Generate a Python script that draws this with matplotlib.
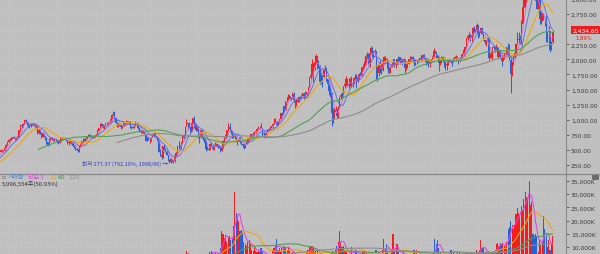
import numpy as np
import pandas as pd
import matplotlib
matplotlib.use('Agg')
import matplotlib.pyplot as plt
from matplotlib.lines import Line2D
from matplotlib.patches import Rectangle

# Monthly KOSPI data, starting 1985/03 (one row per year)
close = [
 134,136,140,142,140,140,145,146,150,163,
 160,170,190,205,215,230,250,255,265,250,250,272,
 290,320,380,390,360,380,450,470,490,500,480,525,
 580,630,660,680,690,710,700,680,700,720,820,907,
 900,930,990,980,950,900,890,930,920,920,900,909,
 780,830,780,720,770,720,700,620,580,680,680,696,
 650,680,660,640,620,650,700,690,700,690,650,610,
 630,650,620,570,540,520,500,480,560,600,640,678,
 650,690,720,750,730,730,710,720,740,760,820,866,
 930,920,870,900,940,940,950,960,1010,1080,1130,1027,
 950,900,930,900,880,890,960,920,980,960,970,882,
 880,870,900,950,940,860,820,800,810,790,760,651,
 690,680,690,710,750,760,730,700,650,470,410,376,
 560,520,480,420,320,297,350,310,310,400,450,562,
 570,520,620,750,700,880,930,940,880,800,950,1028,
 940,830,860,730,720,820,700,690,610,510,520,504,
 600,560,520,560,590,590,540,545,480,540,650,693,
 750,820,880,850,800,740,720,720,650,650,700,627,
 590,575,535,600,630,670,710,760,700,780,790,810,
 850,880,880,860,780,770,735,800,835,850,880,895,
 930,1010,965,910,970,1010,1110,1080,1220,1160,1300,1379,
 1400,1350,1360,1420,1320,1295,1300,1350,1370,1360,1400,1434,
 1360,1420,1450,1540,1700,1740,1930,1870,1950,2060,1900,1897,
 1620,1710,1700,1830,1850,1670,1590,1470,1450,1110,1080,1124,
 1160,1060,1210,1370,1400,1390,1560,1590,1670,1580,1560,1682,
 1600,1590,1690,1740,1640,1700,1760,1740,1870,1880,1900,2051,
 2070,1940,2100,2190,2140,2100,2130,1880,1770,1910,1850,1826,
 1950,2030,2010,1980,1840,1850,1880,1900,2000,1910,1930,1997,
 1960,2030,2000,1960,2000,1860,1920,1930,2000,2030,2045,2011,
 1940,1980,1985,1960,2015,2000,2075,2070,2020,1960,1980,1916,
 1950,1990,2040,2130,2115,2075,2030,1940,1960,2030,1990,1961,
 1910,1915,1995,1995,1980,1970,2015,2035,2040,2010,1980,2026,
 2070,2090,2160,2205,2350,2390,2400,2360,2395,2520,2475,2467,
 2565,2430,2445,2515,2425,2325,2295,2320,2345,2030,2095,2041,
 2205,2195,2140,2205,2040,2130,2025,1970,2065,2085,2090,2198,
 2120,1990,1755,1950,2030,2110,2250,2330,2330,2270,2590,2873,
 2976,3013,3061,3148,3204,3297,3202,3199,3069,2971,2839,2977,
 2663,2699,2757,2695,2685,2332,2452,2472,2155,2293,2434.65,
]
high = [
 140,139,142,145,144,143,147,149,152,165,
 168,172,193,210,220,235,255,262,270,268,256,275,
 295,325,390,405,395,385,455,480,500,515,505,530,
 590,640,670,700,710,720,725,710,710,735,825,910,
 920,940,1000,1007,985,955,910,945,945,935,925,920,
 915,850,840,785,790,775,730,705,625,700,705,715,
 700,690,690,670,650,660,710,705,715,715,695,655,
 640,675,660,625,580,555,530,510,570,620,650,690,
 685,700,730,770,760,745,735,730,750,770,830,870,
 940,945,925,910,950,955,960,970,1020,1090,1138,1130,
 1030,955,940,935,905,905,975,965,990,985,985,975,
 895,890,910,986,965,945,865,825,830,830,795,760,
 705,710,690,715,760,792,770,730,705,660,510,490,
 570,580,530,500,420,350,380,350,335,410,465,570,
 640,580,625,760,770,885,1005,945,960,895,960,1030,
 1066,950,900,860,780,830,830,770,700,640,570,550,
 620,620,580,570,630,620,590,580,545,550,660,710,
 760,830,940,945,850,810,770,760,720,670,710,720,
 640,610,590,610,640,690,720,760,770,790,800,820,
 860,900,890,940,860,790,780,805,840,870,890,900,
 950,1020,1020,970,980,1015,1110,1120,1230,1230,1300,1380,
 1420,1400,1375,1465,1460,1330,1340,1360,1390,1380,1410,1440,
 1440,1470,1460,1545,1710,1800,2000,1940,1960,2085,2060,1990,
 1900,1770,1740,1840,1900,1850,1680,1600,1560,1460,1190,1200,
 1230,1200,1230,1380,1440,1460,1560,1630,1720,1680,1630,1690,
 1720,1640,1700,1760,1750,1750,1780,1790,1880,1920,1980,2060,
 2120,2100,2110,2230,2200,2140,2180,2130,1900,1950,1990,1930,
 1960,2050,2060,2020,1990,1880,1890,1960,2010,2000,1950,2000,
 2050,2030,2030,1990,2020,2010,1930,1950,2010,2060,2060,2050,
 2020,1990,1990,2010,2020,2020,2080,2090,2090,2030,1990,2000,
 1960,2000,2050,2190,2150,2100,2080,2040,1990,2060,2060,2000,
 1960,1940,2010,2020,1990,2010,2025,2060,2070,2060,2010,2040,
 2090,2100,2170,2210,2360,2400,2450,2420,2420,2530,2560,2500,
 2607,2560,2470,2520,2530,2450,2330,2320,2340,2340,2100,2130,
 2210,2235,2230,2250,2200,2140,2140,2020,2070,2110,2140,2200,
 2280,2250,2060,1960,2060,2230,2260,2460,2460,2410,2650,2880,
 3270,3140,3090,3250,3250,3316,3300,3290,3210,3090,3050,3040,
 3000,2780,2780,2760,2690,2740,2460,2550,2470,2300,2480,
]
low = [
 131,132,135,138,137,137,139,142,144,149,
 155,158,168,188,203,212,228,245,252,245,240,248,
 268,285,318,360,350,355,378,440,460,470,460,475,
 520,575,620,650,670,680,690,660,670,690,715,815,
 870,880,925,950,920,880,860,880,905,900,880,850,
 760,760,770,700,710,705,670,600,566,575,650,665,
 640,640,655,620,600,610,640,675,675,675,640,600,
 585,620,605,565,535,505,490,459,470,555,595,630,
 640,645,680,715,720,705,700,700,715,735,755,810,
 860,900,860,850,890,920,925,940,955,1000,1070,1010,
 940,880,880,890,850,860,890,910,920,945,935,860,
 840,855,860,895,920,850,790,780,785,785,740,640,
 640,660,620,650,705,740,720,690,640,470,390,350,
 370,505,460,410,320,277,290,300,285,300,390,430,
 520,500,510,610,680,700,890,850,860,800,810,940,
 860,820,810,700,620,690,700,660,590,480,490,500,
 500,560,490,490,560,570,530,530,460,480,530,620,
 690,720,810,830,760,700,690,680,640,585,640,620,
 580,570,515,540,590,610,660,700,690,700,745,770,
 790,840,840,860,720,750,700,720,790,810,840,860,
 870,930,960,890,910,960,1000,1060,1080,1120,1160,1300,
 1330,1320,1330,1360,1300,1200,1230,1290,1300,1320,1350,1370,
 1350,1390,1370,1450,1540,1680,1730,1620,1830,1920,1840,1850,
 1590,1600,1550,1700,1800,1650,1500,1410,1370,892,950,1030,
 1080,1020,1020,1200,1340,1340,1380,1520,1560,1560,1520,1560,
 1550,1550,1590,1680,1530,1620,1680,1720,1720,1840,1860,1900,
 2020,1930,1880,2100,2040,2020,2080,1680,1640,1720,1780,1760,
 1810,1930,1980,1940,1780,1770,1770,1870,1900,1880,1850,1920,
 1930,1930,1950,1910,1950,1770,1820,1850,1920,1990,2000,1960,
 1890,1910,1920,1950,1950,1970,1970,2030,2010,1900,1920,1880,
 1870,1940,1970,2030,2100,2020,2010,1800,1910,1940,1950,1880,
 1830,1830,1910,1950,1940,1890,1960,2000,1980,2000,1930,1960,
 2020,2050,2080,2120,2200,2330,2360,2310,2310,2390,2460,2430,
 2440,2360,2380,2420,2420,2320,2250,2220,2300,1990,2030,2030,
 1990,2170,2120,2140,2010,2060,2020,1890,1970,2000,2080,2070,
 2080,1990,1439,1720,1900,2030,2110,2250,2270,2260,2260,2590,
 2870,2860,2930,3060,3100,3200,3160,3060,3040,2900,2840,2840,
 2590,2590,2640,2650,2550,2290,2290,2420,2130,2150,2270,
]
# monthly volume, millions of shares (axis unit "K")
volume = [
 200,220,230,210,220,230,250,260,280,320,
 350,400,550,600,580,620,700,650,600,550,520,600,
 700,800,1000,900,800,750,900,850,800,850,700,800,
 900,1000,950,900,850,800,750,700,700,750,900,1100,
 1100,1000,1200,1100,900,800,750,800,700,650,600,700,
 900,700,600,500,700,500,450,400,500,700,600,550,
 500,550,500,450,450,500,600,550,550,500,450,450,
 550,600,500,450,400,450,400,450,700,800,900,900,
 800,1000,1100,1300,1200,1100,1000,1000,1100,1200,1500,1600,
 1800,1500,1300,1400,1500,1400,1300,1300,1500,1700,1700,1300,
 1200,1000,1000,900,800,800,1100,1000,900,900,900,800,
 900,700,900,1100,1000,900,800,700,700,800,800,900,
 1000,1000,1100,1200,1400,1300,1200,1100,1200,1400,1600,2200,
 3000,2500,2200,2000,2100,2300,3500,2800,2500,3500,5000,6000,
 6500,4500,5500,7000,7000,7500,8500,7800,6000,5500,7000,7500,
 6500,5500,6000,5500,6000,7500,6500,6500,6500,7000,7500,7000,
 8000,8500,8000,7500,8000,7500,7000,7500,9500,16000,15000,13500,
 14700,12000,13500,14000,12500,13000,18000,31000,23000,21000,20000,16000,
 16500,15500,12000,11000,10500,12000,12700,11000,9000,8500,10300,8500,
 8000,8500,8000,9500,8500,7000,6500,6500,7000,6500,7000,7500,
 9000,9500,10300,13000,9000,9500,8500,9500,10500,10000,10000,9000,
 10000,9000,7000,8000,7500,6500,6000,6000,5500,6000,6500,6000,
 7000,7500,8000,9000,10000,10000,10500,9500,8000,9000,8500,7500,
 7000,6500,6500,7000,7000,6000,6500,6000,6500,8000,8500,8000,
 9000,10500,12000,16000,12000,10000,10500,9000,8000,7500,7500,7000,
 10000,7500,7000,9000,8500,7000,7000,6500,7000,8000,8500,7500,
 8000,7000,7500,7500,7000,6500,7000,9000,7500,8000,7000,6500,
 9000,13000,9500,11000,8000,7000,7500,8500,15000,9000,7500,11000,
 8000,7000,7000,7500,8500,7000,6500,6000,6000,6500,7000,6500,
 9000,8500,9000,7500,6500,6000,6500,7000,6500,6000,6000,5500,
 6000,6500,7000,8000,13000,11000,12700,9500,8000,7500,7000,6500,
 7000,7000,7500,8000,9000,9000,8500,7000,6500,6500,6000,8000,
 6500,6000,6500,7000,8000,7500,7000,6500,6000,6500,7000,6500,
 9000,8000,9000,12500,9500,10000,8000,7500,7000,8500,7500,7000,
 8000,8500,9000,11000,11500,10500,11500,11000,11500,10500,10000,12000,
 17000,17500,20000,18500,17000,18500,22500,24700,23000,22000,25500,24000,
 28000,30800,29000,28500,35000,26000,27000,15000,14000,15000,14000,8000,
 13000,11000,12000,21700,17000,14000,10000,12500,9000,11000,14000,
]
price_ma = [5, 10, 20, 60, 120]
volume_ma = [5, 20, 60, 120]
price_ticks = [250, 500, 750, 1000, 1250, 1500, 1750, 2000, 2250, 2750, 3000]
volume_ticks = [10000, 15000, 20000, 25000, 30000, 35000]
low_month = '1998-06'
low_label = "최저 277.37 (792.10%, 1998/06)"
last_label = "2,434.65"
last_pct = "1.89%"
vol_note = "5,996,554주(50.93%)"

months = pd.period_range('1985-03', periods=len(close), freq='M')
c = np.array(close, float); h = np.array(high, float); l = np.array(low, float)
o = np.concatenate([[c[0]], c[:-1]])
v = np.array(volume, float)
x = np.arange(len(c))

BG = '#c0c0c0'
RED = '#f41c1c'
BLUE = '#2262dc'
MA_COL = {5: '#d36ad8', 10: '#5a68dc', 20: '#f2a60c', 60: '#4fa252', 120: '#8c8c8c'}

W, H = 600, 255
fig = plt.figure(figsize=(6.0, 2.55), dpi=100, facecolor=BG)
plt.rcParams['font.family'] = ['DejaVu Sans']
KR = ['Noto Sans CJK KR', 'DejaVu Sans']

axw = 566 / W
ax1 = fig.add_axes([0, 1 - 174 / H, axw, 174 / H], facecolor=BG)
ax2 = fig.add_axes([0, 0, axw, 80 / H], facecolor=BG)

x0 = 29.5
x1 = x0 + 566 / 1.308
up = c >= o
col = np.where(up, RED, BLUE)

for ax in (ax1, ax2):
    ax.set_xlim(x0, x1)
    for s in ('left', 'top', 'bottom'):
        ax.spines[s].set_visible(False)
    ax.spines['right'].set_color('#8a8a8a')
    ax.spines['right'].set_linewidth(0.8)
    ax.yaxis.tick_right()
    ax.tick_params(axis='y', labelsize=4.3, colors='#3a3a3a', length=2.5, width=0.5, pad=1)
    ax.tick_params(axis='x', bottom=False, labelbottom=False)
    for xv in range(36, 460, 36):
        ax.axvline(xv, color='#d6d6d6', lw=0.6, ls=(0, (1, 5)), zorder=0)

# price panel
ax1.set_ylim(116, 3002)
ax1.set_yticks(price_ticks)
ax1.set_yticklabels([f'{t:,.2f}' for t in price_ticks])
for t in price_ticks + [2500]:
    ax1.axhline(t, color='#d6d6d6', lw=0.6, ls=(0, (1, 5)), zorder=0)
ax1.vlines(x, l, h, colors=col, lw=0.7, zorder=2)
ax1.bar(x, np.abs(c - o) + 2, bottom=np.minimum(o, c), width=0.8, color=col, lw=0, zorder=3)
cs = pd.Series(c)
for n in price_ma:
    ax1.plot(x, cs.rolling(n).mean(), color=MA_COL[n], lw=0.8 if n >= 20 else 0.6, zorder=4)

ilow = int(np.where(months == pd.Period(low_month, 'M'))[0][0])
ax1.annotate(low_label + ' →', xy=(x[ilow], l[ilow]), xytext=(x[ilow] - 1.2, l[ilow]),
             ha='right', va='center', fontsize=4.0, color='#2a3cc8', family=KR, zorder=6)

ax1.annotate(last_label, xy=(1.0, c[-1]), xycoords=('axes fraction', 'data'),
             xytext=(4.5, 2), textcoords='offset points', ha='left', va='center',
             fontsize=4.3, color='white', zorder=10, annotation_clip=False,
             bbox=dict(boxstyle='square,pad=0.25', fc='#ee1c1c', ec='none'))
ax1.annotate(last_pct, xy=(1.0, c[-1]), xycoords=('axes fraction', 'data'),
             xytext=(7, -3.2), textcoords='offset points', ha='left', va='center',
             fontsize=3.8, color='#ee1c1c', zorder=10, annotation_clip=False)

# volume panel
ax2.set_ylim(7350, 37650)
ax2.set_yticks(volume_ticks)
ax2.set_yticklabels([f'{t:,}K' for t in volume_ticks])
for t in volume_ticks:
    ax2.axhline(t, color='#d6d6d6', lw=0.6, ls=(0, (1, 5)), zorder=0)
ax2.bar(x, v, width=0.85, color=col, lw=0, zorder=2)
vs = pd.Series(v)
vcol = {5: '#e048e0', 20: '#f2a60c', 60: '#4fa252', 120: '#8c8c8c'}
for n in volume_ma:
    ax2.plot(x, vs.rolling(n).mean(), color=vcol[n], lw=0.8, zorder=4)

# separator and decorations
fig.add_artist(Line2D([0, 1], [1 - 174.5 / H, 1 - 174.5 / H], color='#8a8a8a', lw=0.9))
fig.add_artist(Rectangle((592 / W, 1 - 180 / H), 6 / W, 5 / H, fc='#6a6a6a', ec='#505050', lw=0.4))

def fx(px):
    return px / W
def fy(py):
    return 1 - py / H

y_leg = fy(177.5)
fig.text(fx(1.5), y_leg, '▫', fontsize=4.5, color='#707070', va='center', family=['DejaVu Sans'])
fig.text(fx(8), y_leg, '거래량', fontsize=4.3, color='#4f86c8', va='center', family=KR)
fig.text(fx(28), y_leg, '단순 5', fontsize=4.3, color='#e048e0', va='center', family=KR)
fig.text(fx(49), y_leg, '20', fontsize=4.3, color='#f2a60c', va='center')
fig.text(fx(58), y_leg, '60', fontsize=4.3, color='#3f9a46', va='center')
fig.text(fx(68), y_leg, '120', fontsize=4.3, color='#8c8c8c', va='center')
fig.text(fx(2), fy(184.5), vol_note, fontsize=4.3, color='#333333', va='center', family=KR)

fig.savefig('out.png', dpi=100, facecolor=BG)
